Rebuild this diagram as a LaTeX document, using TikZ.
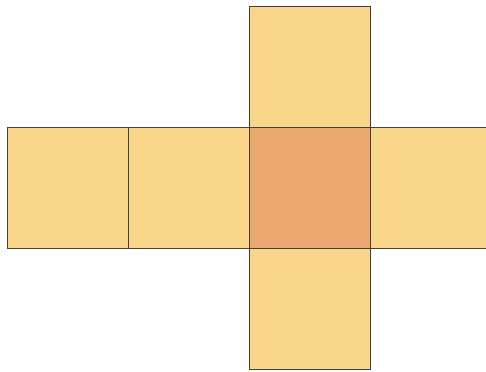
\documentclass[tikz,border=0pt]{standalone}
\usetikzlibrary{positioning}

\definecolor{faceyellow}{RGB}{250,214,138}
\definecolor{faceorange}{RGB}{232,168,112}
\definecolor{edgegray}{RGB}{70,64,60}

\tikzset{
  face/.style={draw=edgegray, line width=1.1pt, fill=faceyellow,
    minimum size=121*0.05cm, inner sep=0pt, outer sep=0pt},
  base/.style={face, fill=faceorange}
}

\begin{document}
\begin{tikzpicture}[x=0.05cm, y=-0.05cm]

  % page margins (px of the reference)
  \useasboundingbox (0,0) rectangle (486,371);
  \clip (0,0) rectangle (486,371);

  % centre face of the net
  \node[base] (bottom) at (310,187.5) {};

  % the other five faces
  \node[face, above=0pt of bottom] (top) {};
  \node[face, below=0pt of bottom] (front) {};
  \node[face, left=0pt of bottom] (left) {};
  \node[face, left=0pt of left] (back) {};
  \node[face, right=0pt of bottom] (right) {};

\end{tikzpicture}
\end{document}
